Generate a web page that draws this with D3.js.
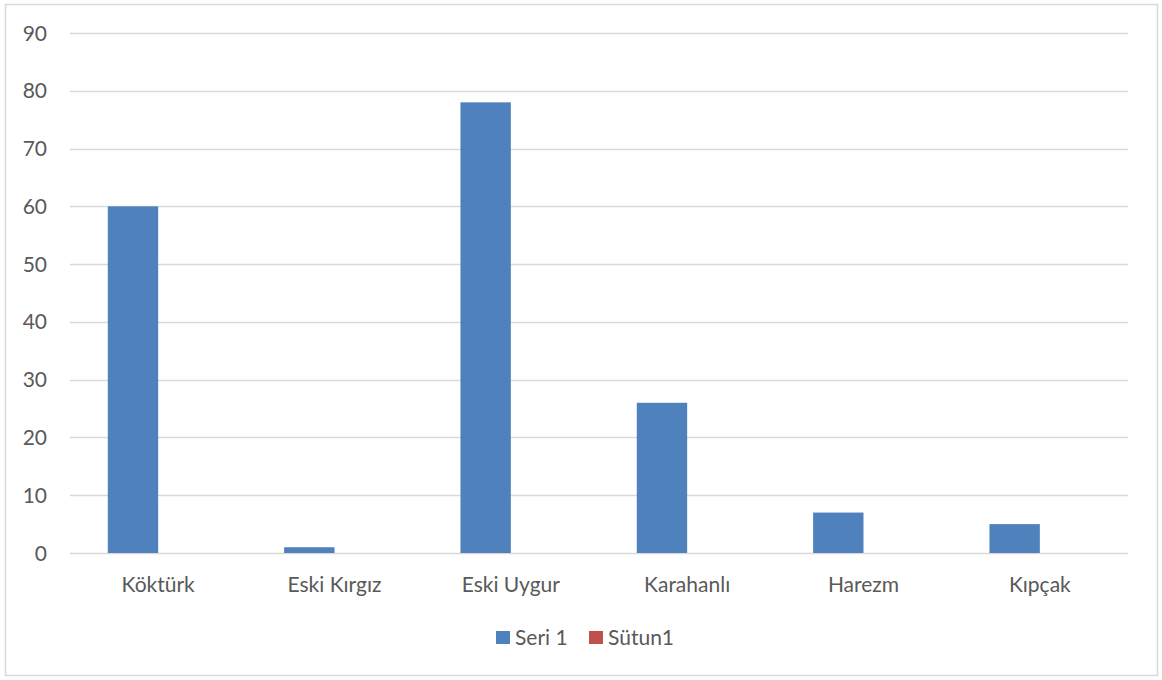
<!DOCTYPE html>
<html><head><meta charset="utf-8">
<script src="https://cdn.jsdelivr.net/npm/d3@7"></script>
<style>body{margin:0;background:#fff;} svg{display:block;font-family:Lato,"Open Sans",sans-serif;}</style>
</head><body>
<svg id="c" width="1162" height="680"></svg>
<script>
const categories = ["Köktürk","Eski Kırgız","Eski Uygur","Karahanlı","Harezm","Kıpçak"];
const seriesNames = ["Seri 1","Sütun1"];
const seri1 = [60,1,78,26,7,5];
const sutun1 = [null,null,null,null,null,null];
const yTicks = [0,10,20,30,40,50,60,70,80,90];
const colors = ["#4f81bd","#c0504d"];

(function(){
const svg = d3.select("#c");
svg.append("rect").attr("x",5.5).attr("y",4.5).attr("width",1152).attr("height",671)
  .attr("fill","#fff").attr("stroke","#d9d9d9").attr("stroke-width",1.5);

const pl=70,pr=1128,pt=33,pb=553;
const x0 = d3.scaleBand().domain(categories).range([pl,pr]).paddingInner(0.4286).paddingOuter(0.2143);
const x1 = d3.scaleBand().domain(seriesNames).range([0,x0.bandwidth()]);
const y = d3.scaleLinear().domain([0,90]).range([pb,pt]);

const xb = d3.scaleBand().domain(categories).range([pl,pr]);

const gy = svg.append("g");
gy.selectAll("line").data(yTicks).join("line")
  .attr("x1",pl).attr("x2",pr).attr("y1",d=>Math.round(y(d))+0.5).attr("y2",d=>Math.round(y(d))+0.5)
  .attr("stroke","#d9d9d9").attr("stroke-width",1.3);
gy.selectAll("text").data(yTicks).join("text")
  .attr("x",47).attr("y",d=>y(d)).attr("dy","0.36em").attr("text-anchor","end")
  .attr("fill","#595959").attr("font-size",21).text(d=>d);

const data = [seri1, sutun1];
seriesNames.forEach((s,i)=>{
  svg.append("g").selectAll("rect").data(categories.map((c,j)=>({c,v:data[i][j]})).filter(d=>d.v!=null))
    .join("rect")
    .attr("x",d=>x0(d.c)+x1(s)).attr("width",x1.bandwidth())
    .attr("y",d=>y(d.v)).attr("height",d=>y(0)-y(d.v))
    .attr("fill",colors[i]);
});

svg.append("g").selectAll("text").data(categories).join("text")
  .attr("x",d=>xb(d)+xb.bandwidth()/2).attr("y",584).attr("dy","0.36em").attr("text-anchor","middle")
  .attr("fill","#595959").attr("font-size",21).text(d=>d);

const leg = svg.append("g");
const legX = [496, 589];
seriesNames.forEach((s,i)=>{
  leg.append("rect").attr("x",legX[i]).attr("y",631).attr("width",14).attr("height",13).attr("fill",colors[i]);
  leg.append("text").attr("x",legX[i]+19).attr("y",637).attr("dy","0.36em").attr("fill","#595959")
    .attr("font-size",21).text(s);
});
})();
</script>
</body></html>
